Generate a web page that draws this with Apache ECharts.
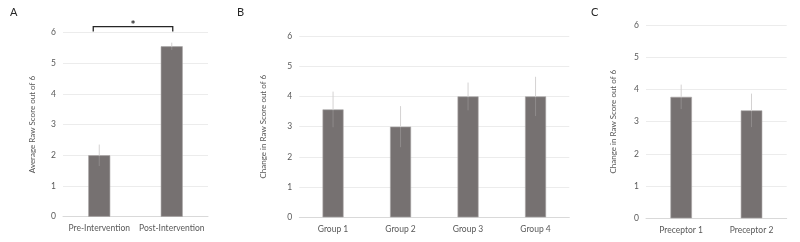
<!DOCTYPE html>
<html><head><meta charset="utf-8">
<script src="https://cdn.jsdelivr.net/npm/echarts@6/dist/echarts.min.js"></script>
<style>html,body{margin:0;padding:0;background:#fff}#c{width:800px;height:242px}</style>
</head><body><div id="c"></div>
<script>
// Panel A
var catsA = ['Pre-Intervention', 'Post-Intervention'];
var valsA = [2.0, 5.55];
var errA = [0.35, 0.12];
// Panel B
var catsB = ['Group 1', 'Group 2', 'Group 3', 'Group 4'];
var valsB = [3.57, 3.0, 4.0, 4.0];
var errB = [0.59, 0.68, 0.46, 0.65];
// Panel C
var catsC = ['Preceptor 1', 'Preceptor 2'];
var valsC = [3.77, 3.35];
var errC = [0.38, 0.52];
// Shared y ticks
var yMin = 0, yMax = 6, yStep = 1;
// Significance bracket (A): from category 0 to 1 at this height
var sigPair = [0, 1];
var sigLevel = 6.19;
var sigTick = 6.03;
var sigLabel = '*';
var panelLabels = ['A', 'B', 'C'];
var yTitles = ['Average Raw Score out of 6', 'Change in Raw Score out of 6', 'Change in Raw Score out of 6'];

var FONT = 'Lato';
var TXT = '#595959';
var BAR = '#767171';

var grids = [
  {left: 63, right: 592, top: 32.5, bottom: 25.3},
  {left: 299.3, right: 230.7, top: 36, bottom: 24.7},
  {left: 646, right: 13.3, top: 25, bottom: 23.7}
];
var catsAll = [catsA, catsB, catsC];
var valsAll = [valsA, valsB, valsC];
var errAll = [errA, errB, errC];
var barW = [22, 21, 21.5];
var nameGaps = [27, 32, 29];

var xAxes = [], yAxes = [], series = [];
for (var i = 0; i < 3; i++) {
  xAxes.push({
    type: 'category', gridIndex: i, data: catsAll[i],
    axisLine: {show: true, lineStyle: {color: '#d9d9d9', width: 1}},
    axisTick: {show: false},
    axisLabel: {color: TXT, fontFamily: FONT, fontSize: 8.5, margin: 7, interval: 0}
  });
  yAxes.push({
    type: 'value', gridIndex: i, min: yMin, max: yMax, interval: yStep,
    name: yTitles[i], nameLocation: 'middle', nameRotate: 90, nameGap: nameGaps[i],
    nameTextStyle: {color: TXT, fontFamily: FONT, fontSize: 8},
    axisLine: {show: false}, axisTick: {show: false},
    axisLabel: {color: TXT, fontFamily: FONT, fontSize: 8.5, margin: 7},
    splitLine: {lineStyle: {color: '#ececec', width: 1}}
  });
  series.push({
    type: 'bar', xAxisIndex: i, yAxisIndex: i, data: valsAll[i], barWidth: barW[i],
    itemStyle: {color: BAR, borderColor: '#a9a6a6', borderWidth: 0.6},
    silent: true, z: 2
  });
  (function (vals, errs) {
    series.push({
      type: 'custom', xAxisIndex: i, yAxisIndex: i,
      data: vals.map(function (v, k) { return [k, v, errs[k]]; }),
      renderItem: function (params, api) {
        var x = api.value(0), v = api.value(1), e = api.value(2);
        var top = api.coord([x, v + e]);
        var mid = api.coord([x, v]);
        var bot = api.coord([x, v - e]);
        return {type: 'group', children: [
          {type: 'line', shape: {x1: top[0], y1: top[1], x2: mid[0], y2: mid[1]},
           style: {stroke: '#d4d2d2', lineWidth: 1}},
          {type: 'line', shape: {x1: mid[0], y1: mid[1], x2: bot[0], y2: bot[1]},
           style: {stroke: 'rgba(255,255,255,0.18)', lineWidth: 1}}
        ]};
      },
      silent: true, z: 3
    });
  })(valsAll[i], errAll[i]);
}
// significance bracket on A
series.push({
  type: 'custom', xAxisIndex: 0, yAxisIndex: 0,
  data: [[sigPair[0], sigPair[1], sigLevel, sigTick]],
  clip: false,
  renderItem: function (params, api) {
    var a = api.coord([api.value(0), api.value(2)]);
    var b = api.coord([api.value(1), api.value(2)]);
    var at = api.coord([api.value(0), api.value(3)]);
    var left = a[0] - 6, right = b[0] + 1;
    return {type: 'group', children: [
      {type: 'polyline', shape: {points: [[left, at[1]], [left, a[1]], [right, a[1]], [right, at[1]]]},
       style: {stroke: '#262626', lineWidth: 1.3, fill: null}},
      {type: 'text', style: {text: sigLabel, x: (left + right) / 2, y: a[1] + 4,
        textAlign: 'center', textVerticalAlign: 'bottom', fill: '#262626', font: 'bold 12px ' + FONT}}
    ]};
  },
  silent: true, z: 4
});

var titles = [
  {text: panelLabels[0], left: 5, top: 2},
  {text: panelLabels[1], left: 232, top: 2},
  {text: panelLabels[2], left: 586, top: 2}
].map(function (t) {
  t.textStyle = {color: '#262626', fontFamily: FONT, fontSize: 11, fontWeight: 'normal'};
  return t;
});

var chart = echarts.init(document.getElementById('c'), null, {renderer: 'canvas'});
chart.setOption({
  animation: false,
  backgroundColor: '#fff',
  title: titles,
  grid: grids,
  xAxis: xAxes,
  yAxis: yAxes,
  series: series
});
</script></body></html>
